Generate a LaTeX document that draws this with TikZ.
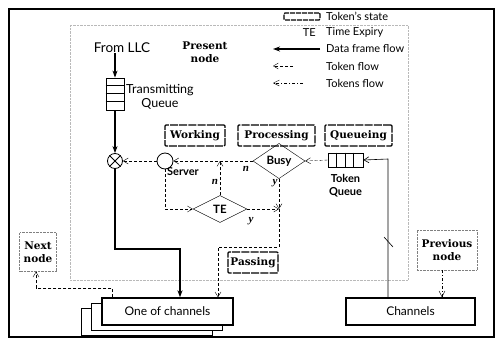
\documentclass[tikz,border=0pt]{standalone}
\usepackage{fontspec}
\setmainfont{Lato}
\newfontfamily\bsf{DejaVu Serif}
\newfontfamily\itf{Liberation Serif}
\usetikzlibrary{arrows.meta,shapes.geometric,calc}
\begin{document}
\begin{tikzpicture}[x=1pt,y=-1pt,
  lbl/.style={font=\fontsize{12.5}{13.5}\selectfont, align=center, inner sep=0pt},
  leg/.style={font=\fontsize{11}{12}\selectfont, anchor=west, inner sep=0pt},
  blbl/.style={font=\bsf\bfseries\fontsize{10.5}{13}\selectfont, align=center, inner sep=0pt},
  ilbl/.style={font=\itf\itshape\bfseries\fontsize{11}{12}\selectfont, inner sep=0pt},
  statebox/.style={draw, line width=1.3pt, dash pattern=on 8pt off 1.2pt, rounded corners=1pt,
    minimum height=21pt, inner sep=2pt, font=\bsf\bfseries\fontsize{10.5}{12}\selectfont},
  nodebox/.style={draw, gray, densely dotted, align=center, inner sep=2pt,
    font=\bsf\bfseries\fontsize{10.5}{13}\selectfont, text=black},
  chbox/.style={draw, line width=1.4pt, fill=white, minimum width=131pt, minimum height=27pt,
    font=\fontsize{12}{13}\selectfont},
  dmd/.style={diamond, draw, thin, inner sep=0pt, font=\fontsize{11.5}{12}\selectfont\bfseries},
  data/.style={line width=1.1pt, -{Stealth[length=7pt,width=5pt]}},
  tok/.style={densely dashed, thin, -{Straight Barb[length=5pt,width=6pt]}},
  toks/.style={dash pattern=on 3pt off 2pt on 1pt off 2pt, thin, -{Straight Barb[length=6pt,width=6pt]}},
]
\useasboundingbox (0,0) rectangle (496,343);
% present-node region
\draw[gray!55, densely dotted] (70,25) rectangle (408,280);

% legend
\node[draw, line width=1.2pt, dash pattern=on 5pt off 1pt, rounded corners=1pt, minimum width=36pt, minimum height=7pt, inner sep=0pt] (legstate) at (302,16.5) {};
\node[leg] (legt1) at (326,16.5) {Token's state};
\node[leg, anchor=east] (legte) at (316,32.5) {TE};
\node[leg] (legt2) at (326,32.5) {Time Expiry};
\node[leg] (legt3) at (326,49) {Data frame flow};
\node[leg] (legt4) at (326,66) {Token flow};
\node[leg] (legt5) at (326,83) {Tokens flow};
\coordinate (la1) at (320,49); \coordinate (lb1) at (273,49);
\coordinate (la2) at (293,66); \coordinate (lb2) at (273,66);
\coordinate (la3) at (303,83); \coordinate (lb3) at (273,83);
\draw[data] (la1) -- (lb1);
\draw[tok] (la2) -- (lb2);
\draw[toks] (la3) -- (lb3);

% top labels
\node[lbl, font=\fontsize{13.5}{14}\selectfont] (llc) at (122,48) {From LLC};
\node[blbl] (pres) at (205,52) {Present\\node};

% transmitting queue
\node[draw, thick, minimum width=18pt, minimum height=32pt, inner sep=0pt] (tq) at (115,94) {};
\foreach \d in {8,16,24} \draw[thick] ($(tq.north west)+(0,\d)$) -- ++(18,0);
\node[lbl, anchor=west] (tqlbl) at (126,97) {Transmitting\\Queue};

% multiplexer and server
\node[circle, draw, thick, minimum size=15pt, inner sep=0pt] (mux) at (115,161) {};
\draw[thick] (mux.north west) -- (mux.south east) (mux.north east) -- (mux.south west);
\node[circle, draw, thick, minimum size=16pt, inner sep=0pt] (srv) at (165,161) {};
\node[lbl, font=\fontsize{11}{12}\selectfont\bfseries, anchor=north west] (srvlbl) at (167,167) {Server};

% states
\node[statebox, minimum width=60pt] (work) at (195,135.5) {Working};
\node[statebox, minimum width=77pt] (proc) at (276.5,135.5) {Processing};
\node[statebox, minimum width=67pt] (queu) at (358.5,135.5) {Queueing};
\node[statebox, minimum width=50pt] (pass) at (253,262.5) {Passing};

% decisions
\node[dmd, minimum width=52pt, minimum height=25pt] (busy) at (279,161) {Busy};
\node[dmd, minimum width=54pt, minimum height=27pt] (te) at (220,209) {TE};

% token queue
\node[draw, thick, minimum width=35pt, minimum height=14pt, inner sep=0pt] (tokq) at (345.5,160) {};
\foreach \d in {8.75,17.5,26.25} \draw[line width=1.1pt] ($(tokq.north west)+(\d,0)$) -- ++(0,14);
\node[lbl, font=\fontsize{11}{13}\selectfont\bfseries] (tokqlbl) at (345.5,186) {Token\\Queue};

% channels
\node[chbox] (och3) at (147,322) {};
\node[chbox] (och2) at (157,317) {};
\node[chbox] (och) at (167.5,311.5) {One of channels};
\node[chbox, minimum width=129pt] (ch) at (410.5,311.5) {Channels};

% neighbour nodes
\node[nodebox, minimum width=37pt, minimum height=39pt] (next) at (38,252) {Next\\node};
\node[nodebox, minimum width=60pt, minimum height=40pt] (prev) at (447,250) {Previous\\node};

% labels n / y
\node[ilbl] (ln1) at (246,169) {n};
\node[ilbl] (ln2) at (215,182) {n};
\node[ilbl] (ly1) at (275,183) {y};
\node[ilbl] (ly2) at (251,221) {y};

% coordinates
\coordinate (j) at (220,161);
\coordinate (m) at (279,209);
\coordinate (d1) at (180,249);
\coordinate (p1) at (279,247);
\coordinate (p2) at (218,247);
\coordinate (q1) at (112,288);
\coordinate (q2) at (36,288);
\coordinate (r1) at (388,159);
\coordinate (s1) at (384,237);
\coordinate (s2) at (393,247);

% data frame flow
\draw[data] (llc.south -| tq.north) -- (tq.north);
\draw[data] (tq.south) -- (mux.north);
\draw[data] (mux.south) |- (d1) -- (d1 |- och.north);

% token flows
\draw[tok] (srv.west) -- (mux.east);
\draw[tok] (busy.west) -- (srv.east);
\draw[tok] (te.north) -- (j);
\draw[tok] (srv.south) |- (te.west);
\draw[tok] (busy.south) -- (m);
\draw[tok] (te.east) -- (m);
\draw[tok] (m) -- (p1) -- (p2) -- (p2 |- och.north);
\draw[tok] (tokq.west) -- (busy.east);
\draw[line width=0.6pt, -{Straight Barb[length=5pt,width=6pt]}] (r1 |- ch.north) -- (r1) -- (tokq.east);
\draw[line width=0.6pt] (s1) -- (s2);
\draw[toks] (prev.south -| 442,0) -- (ch.north -| 442,0);
\draw[tok] (och.north -| q1) -- (q1) -- (q2) -- (q2 |- next.south);

% outer frame
\draw[line width=1.5pt] (9,9) rectangle (494,337);
\end{tikzpicture}
\end{document}
